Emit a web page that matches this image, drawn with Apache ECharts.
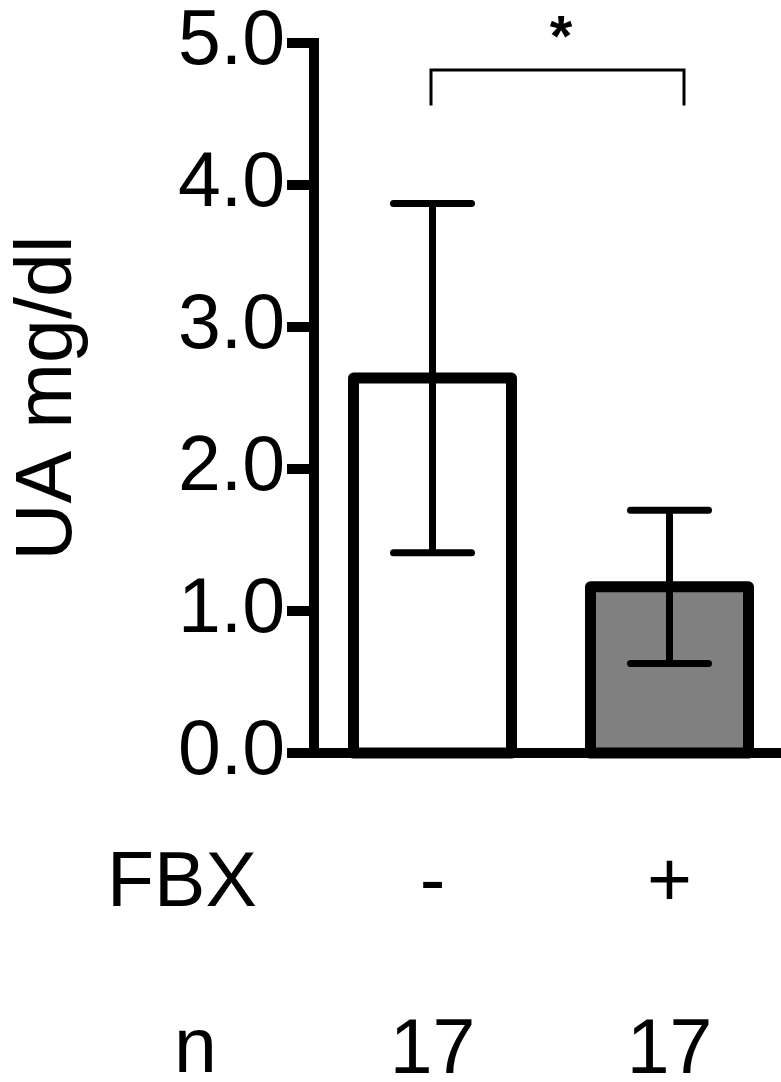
<!DOCTYPE html>
<html>
<head>
<meta charset="utf-8">
<script src="https://cdn.jsdelivr.net/npm/echarts@6/dist/echarts.min.js"></script>
<style>
html,body{margin:0;padding:0;background:#fff;}
#c{width:781px;height:1082px;}
</style>
</head>
<body>
<div id="c"></div>
<script>
// ---- data ----
const categories = ['-', '+'];
const means = [2.64, 1.17];
const errLow = [1.41, 0.63];
const errHigh = [3.87, 1.71];
const nValues = ['17', '17'];
const barColors = ['#ffffff', '#808080'];
const yTicks = [0, 1, 2, 3, 4, 5];
const yTitle = 'UA mg/dl';
const rowLabels = ['FBX', 'n'];
const sigPair = [0, 1];
const sigLevels = [4.81, 4.56]; // bracket top, leg bottom
const sigText = '*';

const FONT = '"Liberation Sans", Arial, Helvetica, sans-serif';

const chart = echarts.init(document.getElementById('c'), null, {renderer: 'canvas'});

const option = {
  animation: false,
  backgroundColor: '#ffffff',
  grid: {left: 314, top: 43, width: 474, height: 710, containLabel: false, outerBoundsMode: 'none'},
  xAxis: [
    {
      type: 'category',
      data: categories,
      position: 'bottom',
      axisLine: {show: true, onZero: false, lineStyle: {color: '#000', width: 10, cap: 'square'}},
      axisTick: {show: false},
      axisLabel: {color: '#000', fontSize: 77, fontFamily: FONT, margin: 93, lineHeight: 77},
      splitLine: {show: false}
    },
    {
      type: 'category',
      data: categories,
      position: 'bottom',
      axisLine: {show: false},
      axisTick: {show: false},
      axisLabel: {
        color: '#000', fontSize: 77, fontFamily: FONT, margin: 260, lineHeight: 77,
        formatter: function (v, i) { return nValues[i]; }
      },
      splitLine: {show: false}
    }
  ],
  yAxis: {
    type: 'value',
    min: yTicks[0],
    max: yTicks[yTicks.length - 1],
    interval: 1,
    name: yTitle,
    nameLocation: 'middle',
    nameGap: 225,
    nameTextStyle: {color: '#000', fontSize: 79, fontFamily: FONT, lineHeight: 79},
    axisLine: {show: true, lineStyle: {color: '#000', width: 10, cap: 'square'}},
    axisTick: {show: true, length: 27, lineStyle: {color: '#000', width: 10}},
    axisLabel: {
      color: '#000', fontSize: 77, fontFamily: FONT, margin: 29,
      formatter: function (v) { return v.toFixed(1); }
    },
    splitLine: {show: false}
  },
  graphic: [
    {type: 'text', left: 107, top: 885 - 38.5,
      style: {text: rowLabels[0], font: '77px ' + FONT, fill: '#000', lineHeight: 77}},
    {type: 'text', left: 174, top: 1051 - 38.5,
      style: {text: rowLabels[1], font: '77px ' + FONT, fill: '#000', lineHeight: 77}}
  ],
  series: [
    {
      type: 'custom',
      xAxisIndex: 0,
      z: 2,
      data: means.map(function (m, i) { return [i, m]; }),
      renderItem: function (params, api) {
        const i = api.value(0);
        const top = api.coord([i, api.value(1)]);
        const base = api.coord([i, 0]);
        const w = 158;
        return {
          type: 'rect',
          shape: {x: top[0] - w / 2, y: top[1], width: w, height: base[1] - top[1]},
          style: {fill: barColors[params.dataIndex], stroke: '#000', lineWidth: 11, lineJoin: 'round'}
        };
      }
    },
    {
      type: 'custom',
      xAxisIndex: 0,
      z: 5,
      data: categories.map(function (c, i) { return [i, errLow[i], errHigh[i]]; }),
      renderItem: function (params, api) {
        const x = api.value(0);
        const lo = api.coord([x, api.value(1)]);
        const hi = api.coord([x, api.value(2)]);
        const hw = 39;
        const st = {stroke: '#000', lineWidth: 7};
        return {
          type: 'group',
          children: [
            {type: 'line', shape: {x1: hi[0], y1: hi[1], x2: lo[0], y2: lo[1]}, style: Object.assign({lineCap: 'butt'}, st)},
            {type: 'line', shape: {x1: hi[0] - hw, y1: hi[1], x2: hi[0] + hw, y2: hi[1]}, style: Object.assign({lineCap: 'round'}, st)},
            {type: 'line', shape: {x1: lo[0] - hw, y1: lo[1], x2: lo[0] + hw, y2: lo[1]}, style: Object.assign({lineCap: 'round'}, st)}
          ]
        };
      }
    },
    {
      type: 'custom',
      xAxisIndex: 0,
      z: 5,
      data: [[sigPair[0], sigPair[1], sigLevels[0], sigLevels[1]]],
      renderItem: function (params, api) {
        const a = api.coord([api.value(0), api.value(2)]);
        const b = api.coord([api.value(1), api.value(2)]);
        const legY = api.coord([api.value(0), api.value(3)])[1];
        const x1 = a[0] - 1.5, x2 = b[0] + 14.5, y = a[1];
        return {
          type: 'group',
          children: [
            {type: 'polyline', shape: {points: [[x1, legY], [x1, y], [x2, y], [x2, legY]]},
              style: {stroke: '#000', lineWidth: 3, fill: null, lineJoin: 'miter'}},
            {type: 'text', x: (x1 + x2) / 2 + 3.5, y: y - 30,
              style: {text: sigText, font: 'bold 58px ' + FONT, fill: '#000', align: 'center', verticalAlign: 'middle'}}
          ]
        };
      }
    }
  ]
};

chart.setOption(option);
</script>
</body>
</html>
